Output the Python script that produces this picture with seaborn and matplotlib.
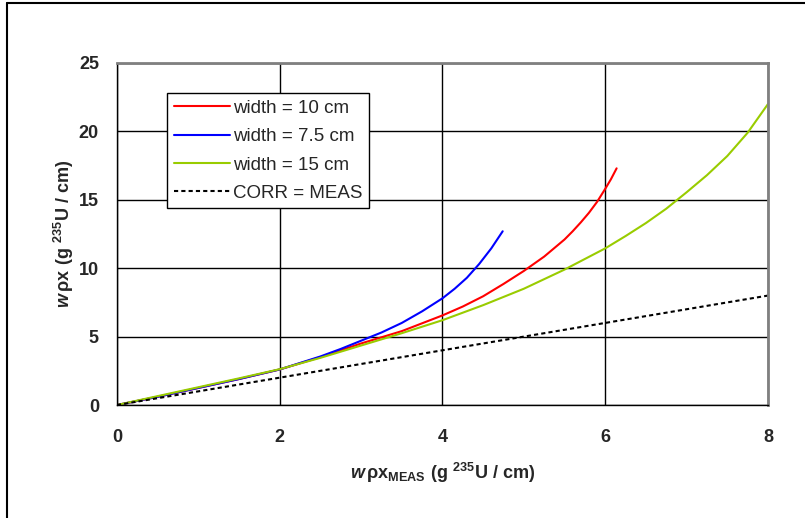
import numpy as np
import pandas as pd
import matplotlib
matplotlib.use('Agg')
import matplotlib.pyplot as plt
from matplotlib.lines import Line2D
import seaborn as sns

# Dados
x_10 = [0, 0.5, 1, 1.5, 2, 2.5, 3, 3.5, 4, 4.25, 4.5, 4.75, 5, 5.25, 5.5, 5.6, 5.7, 5.8, 5.9, 6.0, 6.07, 6.14]
y_10 = [0, 0.6, 1.25, 1.9, 2.6, 3.5, 4.5, 5.4, 6.55, 7.2, 7.95, 8.85, 9.8, 10.85, 12.1, 12.7, 13.35, 14.05, 14.85, 15.8, 16.5, 17.3]

x_75 = [0, 0.5, 1, 1.5, 2, 2.5, 2.75, 3, 3.25, 3.5, 3.75, 4, 4.15, 4.3, 4.45, 4.6, 4.74]
y_75 = [0, 0.6, 1.25, 1.9, 2.6, 3.55, 4.1, 4.7, 5.3, 6.0, 6.85, 7.8, 8.5, 9.3, 10.3, 11.45, 12.7]

x_15 = [0, 0.5, 1, 1.5, 2, 2.5, 3, 3.5, 4, 4.5, 5, 5.5, 6, 6.25, 6.5, 6.75, 7, 7.25, 7.5, 7.75, 8]
y_15 = [0, 0.65, 1.3, 1.95, 2.62, 3.45, 4.35, 5.25, 6.2, 7.3, 8.5, 9.9, 11.45, 12.35, 13.3, 14.35, 15.55, 16.8, 18.2, 19.9, 22.0]

x_corr = [0, 8]
y_corr = [0, 8]

legendas = ['width = 10 cm', 'width = 7.5 cm', 'width = 15 cm', 'CORR = MEAS']

sns.set_theme(style='white')
plt.rcParams['font.family'] = ['Liberation Sans', 'DejaVu Sans']
plt.rcParams['mathtext.fontset'] = 'custom'
plt.rcParams['mathtext.rm'] = 'Liberation Sans:bold'
plt.rcParams['mathtext.it'] = 'Liberation Sans:bold:italic'
plt.rcParams['mathtext.bf'] = 'Liberation Sans:bold'

fig = plt.figure(figsize=(8.05, 5.18), dpi=100)
ax = fig.add_axes([0.1453, 0.2181, 0.8087, 0.6603])

sns.lineplot(x=x_10, y=y_10, ax=ax, color='#ff0000', linewidth=1.5, label=legendas[0])
sns.lineplot(x=x_75, y=y_75, ax=ax, color='#0000ff', linewidth=1.5, label=legendas[1])
sns.lineplot(x=x_15, y=y_15, ax=ax, color='#99cc00', linewidth=1.5, label=legendas[2])
sns.lineplot(x=x_corr, y=y_corr, ax=ax, color='black', linewidth=1.5, linestyle=(0, (2, 1.5)), label=legendas[3])

ax.set_xlim(0, 8)
ax.set_ylim(0, 25)
ax.set_xticks([0, 2, 4, 6, 8])
ax.set_yticks([0, 5, 10, 15, 20, 25])
ax.grid(True, color='black', linewidth=1)
ax.set_axisbelow(True)

for lado in ['left', 'bottom']:
    ax.spines[lado].set_color('black')
    ax.spines[lado].set_linewidth(1)
for lado in ['top', 'right']:
    ax.spines[lado].set_color('#808080')
    ax.spines[lado].set_linewidth(2)

ax.tick_params(axis='both', direction='inout', length=8, width=1, color='black', labelsize=13)
ax.tick_params(axis='x', pad=13)
ax.tick_params(axis='y', pad=9)
for t in ax.get_xticklabels() + ax.get_yticklabels():
    t.set_fontweight('bold')

ax.set_xlabel(r'$\mathit{w}\,\mathrm{ρx_{MEAS}\ (g\ ^{235}U\ /\ cm)}$', fontsize=13, labelpad=11)
ax.set_ylabel(r'$\mathit{w}\,\mathrm{ρx\ (g\ ^{235}U\ /\ cm)}$', fontsize=13, labelpad=2)

leg = ax.legend(loc='upper left', bbox_to_anchor=(0.0768, 0.912), borderaxespad=0, fontsize=13.5,
                frameon=True, fancybox=False, edgecolor='black', framealpha=1,
                handlelength=3.0, handletextpad=0.15, labelspacing=0.6, borderpad=0.35)
leg.get_frame().set_linewidth(1)

# moldura externa (topo e esquerda)
fig.add_artist(Line2D([0.009, 1.0], [0.994, 0.994], transform=fig.transFigure, color='black', linewidth=1.5))
fig.add_artist(Line2D([0.009, 0.009], [0.0, 0.994], transform=fig.transFigure, color='black', linewidth=1.5))

fig.savefig('out.png', dpi=100, facecolor='white')
